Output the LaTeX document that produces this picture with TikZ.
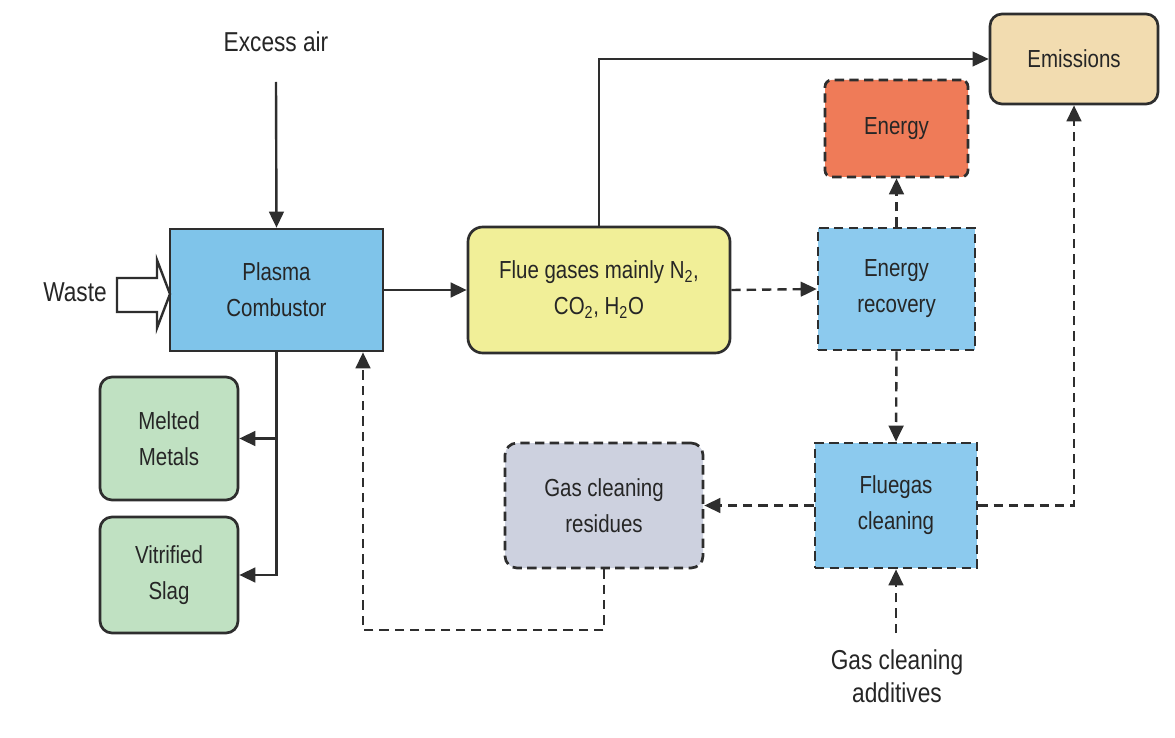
\documentclass[tikz,border=0pt]{standalone}
\usepackage{fontspec}
\setmainfont{Liberation Sans}[FakeStretch=0.83]
\usetikzlibrary{arrows.meta}
\definecolor{plasmablue}{HTML}{7FC4EA}
\definecolor{recblue}{HTML}{8CCAEE}
\definecolor{flueyellow}{HTML}{F1EF98}
\definecolor{energyred}{HTML}{EF7B58}
\definecolor{emisstan}{HTML}{F2DCB0}
\definecolor{residgrey}{HTML}{CDD1DF}
\definecolor{slaggreen}{HTML}{C0E1C2}
\definecolor{lin}{HTML}{2E2E2E}
\definecolor{txt}{HTML}{262626}
\begin{document}
\begin{tikzpicture}[x=0.75pt,y=-0.75pt,
  sz/.style 2 args={minimum width=#1*0.75pt, minimum height=#2*0.75pt},
  box/.style={draw=lin, line width=2pt, text=txt, align=center, inner sep=0pt,
    font=\fontsize{18.5}{27}\selectfont},
  dbox/.style={box, dash pattern=on 7pt off 4pt},
  lab/.style={text=txt, align=center, inner sep=0pt, font=\fontsize{20.5}{25}\selectfont},
  arr/.style={-{Triangle[length=12pt,width=11pt]}, line width=1.8pt, draw=lin},
  darr/.style={arr, dash pattern=on 7pt off 4.5pt}]
\useasboundingbox[fill=white] (0,0) rectangle (1175,738);

% boxes
\node[box, sz={213}{122}, fill=plasmablue] (plasma) at (276.5,290) {Plasma\\Combustor};
\node[box, sz={262}{126}, fill=flueyellow, rounded corners=11pt] (flue) at (599,290)
  {Flue gases mainly N\textsubscript{2},\\CO\textsubscript{2}, H\textsubscript{2}O};
\node[dbox, sz={157}{122}, fill=recblue] (enrec) at (896.5,289) {Energy\\recovery};
\node[dbox, sz={143}{97}, fill=energyred, rounded corners=5pt] (energy) at (896.5,128.5) {Energy};
\node[box, sz={168}{90}, fill=emisstan, rounded corners=9pt] (emis) at (1074,59) {Emissions};
\node[dbox, sz={162}{125}, fill=recblue] (fgclean) at (896,505.5) {Fluegas\\cleaning};
\node[dbox, sz={198}{125}, fill=residgrey, rounded corners=9pt] (resid) at (604,505.5) {Gas cleaning\\residues};
\node[box, sz={138}{123}, fill=slaggreen, rounded corners=9pt] (metals) at (169,438.5) {Melted\\Metals};
\node[box, sz={138}{116}, fill=slaggreen, rounded corners=9pt] (slag) at (169,575) {Vitrified\\Slag};

% free labels
\node[lab] (air) at (276,42) {Excess air};
\node[lab] (waste) at (75,292) {Waste};
\node[lab] (additives) at (897,676) {Gas cleaning\\additives};

% hollow waste arrow
\draw[lin, line width=1.8pt, fill=white, line join=miter]
  (117,278) -- (157,278) -- (157,260) -- (170,294) -- (157,328) -- (157,312) -- (117,312) -- cycle;

% coordinates for free ends
\coordinate (airstart) at (276,82);
\coordinate (addtop) at (896,633);
\coordinate (ret) at (363,630);

% connectors
\draw[arr] (airstart) -- (plasma.north);
\draw[arr] (plasma.east) -- (flue.west);
\draw[arr, line width=1.4pt] (flue.north) |- (emis.west);
\draw[darr] (flue.east) -- (enrec.west);
\draw[darr] (enrec.north) -- (energy.south);
\draw[darr] (enrec.south) -- (fgclean.north);
\draw[darr] (fgclean.west) -- (resid.east);
\draw[darr] (fgclean.east) -| (emis.south);
\draw[darr] (addtop) -- (fgclean.south);
\draw[darr] (resid.south) |- (ret) -- (ret |- plasma.south);
\draw[arr] (plasma.south) |- (slag.east);
\draw[arr] (plasma.south |- metals.east) -- (metals.east);
\end{tikzpicture}
\end{document}
